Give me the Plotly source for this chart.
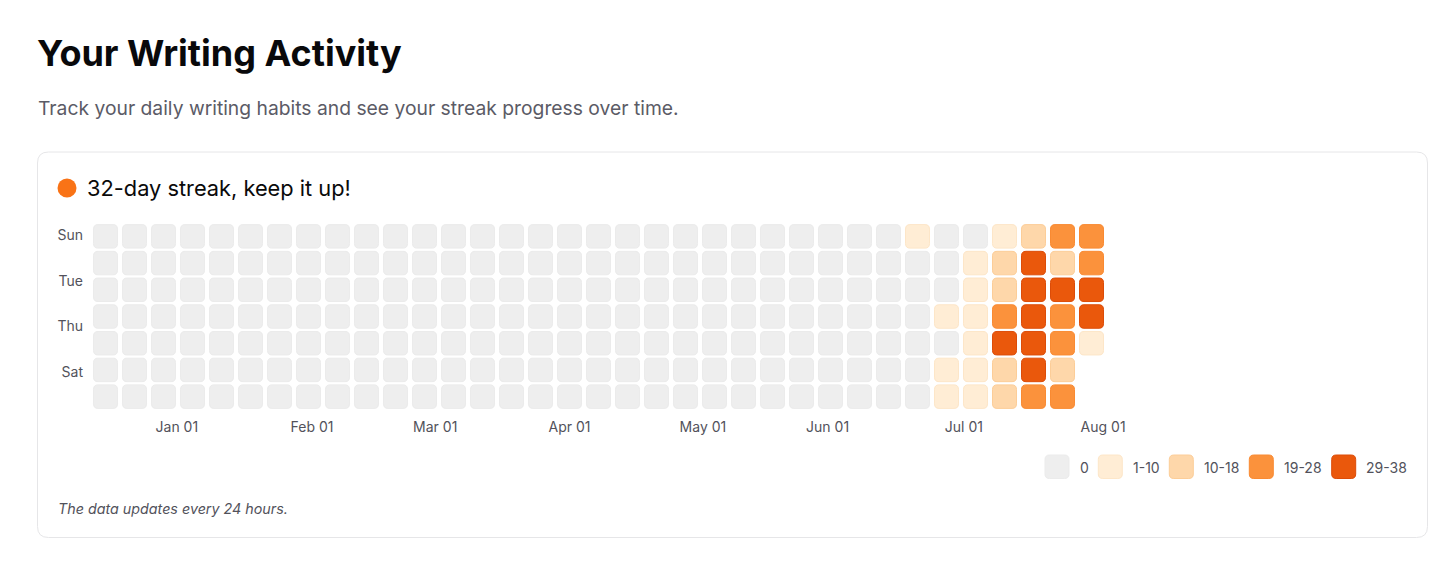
import plotly.graph_objects as go

# ---------------- data ----------------
weekday_names = ["Sun", "Mon", "Tue", "Wed", "Thu", "Fri", "Sat"]
# daily word-count activity, one list per weekday, one value per week (35 weeks)
sun = [0, 0, 0, 0, 0, 0, 0, 0, 0, 0, 0, 0, 0, 0, 0, 0, 0, 0, 0, 0, 0, 0, 0, 0, 0, 0, 0, 0, 4, 0, 0, 9, 14, 21, 24]
mon = [0, 0, 0, 0, 0, 0, 0, 0, 0, 0, 0, 0, 0, 0, 0, 0, 0, 0, 0, 0, 0, 0, 0, 0, 0, 0, 0, 0, 0, 0, 5, 13, 33, 17, 20]
tue = [0, 0, 0, 0, 0, 0, 0, 0, 0, 0, 0, 0, 0, 0, 0, 0, 0, 0, 0, 0, 0, 0, 0, 0, 0, 0, 0, 0, 0, 0, 7, 15, 35, 32, 37]
wed = [0, 0, 0, 0, 0, 0, 0, 0, 0, 0, 0, 0, 0, 0, 0, 0, 0, 0, 0, 0, 0, 0, 0, 0, 0, 0, 0, 0, 0, 3, 4, 22, 30, 26, 34]
thu = [0, 0, 0, 0, 0, 0, 0, 0, 0, 0, 0, 0, 0, 0, 0, 0, 0, 0, 0, 0, 0, 0, 0, 0, 0, 0, 0, 0, 0, 0, 8, 31, 36, 23, 6]
fri = [0, 0, 0, 0, 0, 0, 0, 0, 0, 0, 0, 0, 0, 0, 0, 0, 0, 0, 0, 0, 0, 0, 0, 0, 0, 0, 0, 0, 0, 6, 6, 12, 34, 15, None]
sat = [0, 0, 0, 0, 0, 0, 0, 0, 0, 0, 0, 0, 0, 0, 0, 0, 0, 0, 0, 0, 0, 0, 0, 0, 0, 0, 0, 0, 0, 5, 9, 16, 25, 27, None]

day_tick_labels = ["Sun", "Tue", "Thu", "Sat"]
day_tick_pos = [-0.06, 1.66, 3.37, 5.09]
month_labels = ["Jan 01", "Feb 01", "Mar 01", "Apr 01", "May 01", "Jun 01", "Jul 01", "Aug 01"]
month_pos = [2.46, 7.12, 11.37, 16.0, 20.6, 24.9, 29.6, 34.4]

bucket_labels = ["0", "1-10", "10-18", "19-28", "29-38"]
bucket_upper = [0, 10, 18, 28, 38]

streak_days = 32
title_text = "Your Writing Activity"
subtitle_text = "Track your daily writing habits and see your streak progress over time."
footer_text = "The data updates every 24 hours."

# ---------------- styles ----------------
bucket_fill = ["#eeeeee", "#ffedd5", "#fed7aa", "#fb923c", "#ea580c"]
bucket_line = ["#ebebeb", "#fde6c8", "#fccd98", "#f98a32", "#dc4c08"]

W_PX, H_PX = 1456, 561
L, T = 91, 223
PW, PH = 1015, 187
R = W_PX - L - PW
B = H_PX - T - PH
FONT = "Inter, 'Open Sans', sans-serif"

rows = [sun, mon, tue, wed, thu, fri, sat]
n_weeks = len(sun)


def bucket(v):
    for i, ub in enumerate(bucket_upper):
        if v <= ub:
            return i
    return len(bucket_upper) - 1


def rpath(x0, y0, x1, y1, rx, ry):
    return (f"M{x0+rx},{y0} L{x1-rx},{y0} Q{x1},{y0} {x1},{y0+ry} "
            f"L{x1},{y1-ry} Q{x1},{y1} {x1-rx},{y1} L{x0+rx},{y1} "
            f"Q{x0},{y1} {x0},{y1-ry} L{x0},{y0+ry} Q{x0},{y0} {x0+rx},{y0} Z")


def px(xp):
    return (xp - L) / PW


def py(yp):
    return 1 - (yp - T) / PH


def ppath(x0, y0, x1, y1, r):
    pts = [(x0 + r, y0), (x1 - r, y0), (x1, y0), (x1, y0 + r), (x1, y1 - r), (x1, y1),
           (x1 - r, y1), (x0 + r, y1), (x0, y1), (x0, y1 - r), (x0, y0 + r), (x0, y0), (x0 + r, y0)]
    c = [(px(a), py(b)) for a, b in pts]
    f = lambda p: f"{p[0]},{p[1]}"
    return (f"M{f(c[0])} L{f(c[1])} Q{f(c[2])} {f(c[3])} L{f(c[4])} Q{f(c[5])} {f(c[6])} "
            f"L{f(c[7])} Q{f(c[8])} {f(c[9])} L{f(c[10])} Q{f(c[11])} {f(c[12])} Z")


fig = go.Figure()
shapes = []
annotations = []

# card
shapes.append(dict(type="path", xref="paper", yref="paper", layer="below",
                   path=ppath(37.5, 152, 1427.5, 537.5, 11),
                   line=dict(color="#e6e6e8", width=1), fillcolor="white"))

# cells
hx, hy, ht = [], [], []
cw = 24 / 29 / 2
ch = 23.5 / (PH / 7) / 2
rx = 4.5 / 29
ry = 4.5 / (PH / 7)
for r, row in enumerate(rows):
    for c, v in enumerate(row):
        if v is None:
            continue
        b = bucket(v)
        shapes.append(dict(type="path", xref="x", yref="y", layer="above",
                           path=rpath(c - cw, r - ch, c + cw, r + ch, rx, ry),
                           fillcolor=bucket_fill[b], line=dict(color=bucket_line[b], width=1)))
        hx.append(c)
        hy.append(r)
        ht.append(f"{weekday_names[r]}, week {c + 1}: {v}")

fig.add_trace(go.Scatter(x=hx, y=hy, mode="markers", hovertext=ht, hoverinfo="text",
                         marker=dict(size=22, opacity=0), showlegend=False))

# legend swatches
sw_left = [1045, 1098.3, 1169.3, 1249.3, 1331.7]
for i, lab in enumerate(bucket_labels):
    x0 = sw_left[i]
    shapes.append(dict(type="path", xref="paper", yref="paper",
                       path=ppath(x0, 455, x0 + 24, 478.5, 4.5),
                       fillcolor=bucket_fill[i], line=dict(color=bucket_line[i], width=1)))
    annotations.append(dict(xref="paper", yref="paper", x=px(x0 + 32.5), y=py(467),
                            xanchor="left", yanchor="middle", showarrow=False, text=lab,
                            font=dict(family=FONT, size=14, color="#52525b")))

# streak dot
shapes.append(dict(type="circle", xref="paper", yref="paper",
                   x0=px(57.5), x1=px(76.5), y0=py(178.5), y1=py(197.5),
                   fillcolor="#f97316", line=dict(width=0)))

annotations += [
    dict(xref="paper", yref="paper", x=px(35), y=py(53), xanchor="left", yanchor="middle",
         showarrow=False, text=f"<b>{title_text}</b>",
         font=dict(family=FONT, size=36, color="#09090b")),
    dict(xref="paper", yref="paper", x=px(36), y=py(108), xanchor="left", yanchor="middle",
         showarrow=False, text=subtitle_text,
         font=dict(family=FONT, size=19.3, color="#5b5b66")),
    dict(xref="paper", yref="paper", x=px(85), y=py(188), xanchor="left", yanchor="middle",
         showarrow=False, text=f"{streak_days}-day streak, keep it up!",
         font=dict(family=FONT, size=21.8, color="#0a0a0a")),
    dict(xref="paper", yref="paper", x=px(56), y=py(508), xanchor="left", yanchor="middle",
         showarrow=False, text=f"<i>{footer_text}</i>",
         font=dict(family=FONT, size=14.3, color="#52525b")),
]

fig.update_layout(
    width=W_PX, height=H_PX,
    margin=dict(l=L, r=R, t=T, b=B, pad=0),
    paper_bgcolor="white", plot_bgcolor="white",
    font=dict(family=FONT, size=14, color="#52525b"),
    showlegend=False,
    shapes=shapes, annotations=annotations,
    xaxis=dict(range=[-0.5, n_weeks - 0.5], tickvals=month_pos, ticktext=month_labels,
               showgrid=False, zeroline=False, showline=False, ticks="",
               ticklabelstandoff=7, tickfont=dict(size=14, color="#52525b"), fixedrange=True),
    yaxis=dict(range=[6.5, -0.5], tickvals=day_tick_pos, ticktext=day_tick_labels,
               showgrid=False, zeroline=False, showline=False, ticks="",
               ticklabelstandoff=7, tickfont=dict(size=14, color="#52525b"), fixedrange=True),
    hoverlabel=dict(font=dict(family=FONT)),
)

fig.write_html("out.html", config={"displayModeBar": False},
               post_script="document.body.style.margin='0';document.body.style.overflow='hidden';")
